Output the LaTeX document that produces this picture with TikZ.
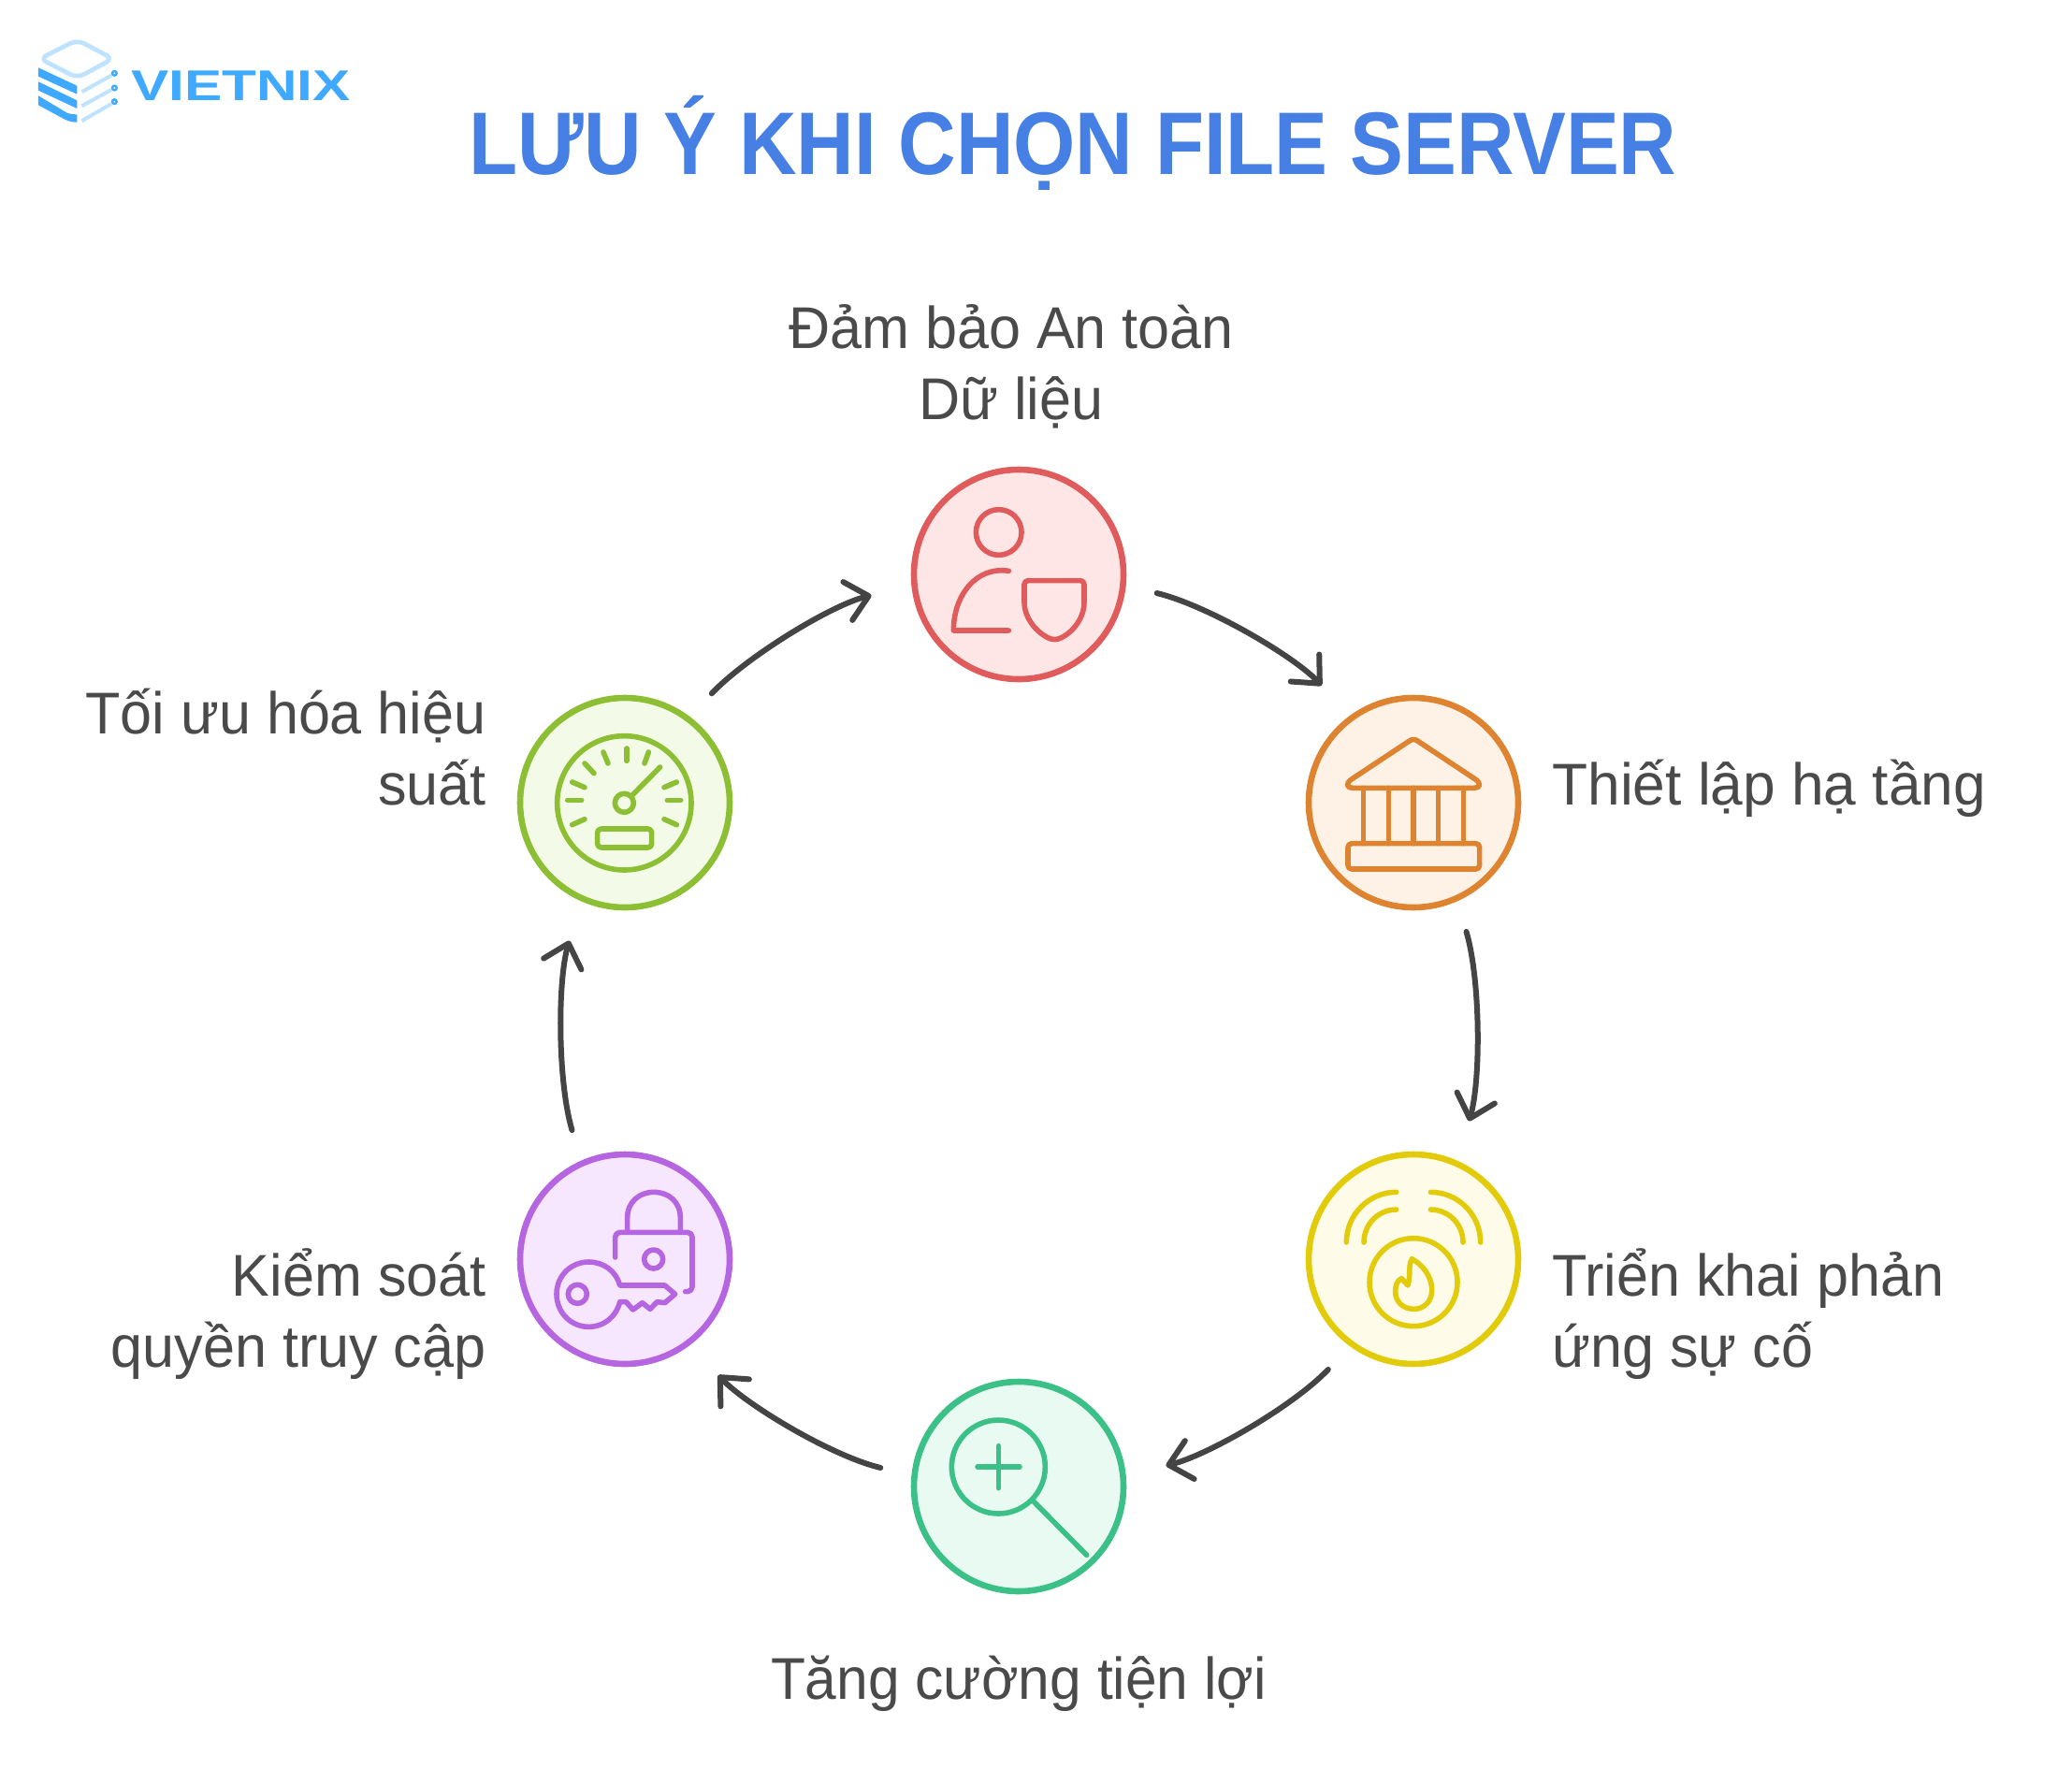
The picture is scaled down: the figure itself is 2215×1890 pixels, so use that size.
\documentclass[tikz,border=0pt]{standalone}
\usepackage{fontspec}
\setmainfont{Liberation Sans}
\newfontfamily\bodyfont[FakeStretch=0.97]{Liberation Sans}
\newfontfamily\bodywide[FakeStretch=0.988]{Liberation Sans}
\newfontfamily\bodytight[FakeStretch=0.96]{Liberation Sans}
\newfontfamily\titlefont[FakeStretch=0.897]{Liberation Sans Bold}
\newfontfamily\logofont[FakeStretch=1.31]{Liberation Sans Bold}
\usetikzlibrary{arrows.meta}
\definecolor{txt}{HTML}{4A4A4A}
\definecolor{ttl}{HTML}{4680E4}
\definecolor{arw}{HTML}{444444}
\definecolor{lgb}{HTML}{3FA9FF}
\definecolor{lgl}{HTML}{BFE3FF}
\definecolor{rs}{HTML}{E05C5C}\definecolor{rf}{HTML}{FFE6E6}
\definecolor{os}{HTML}{DE8431}\definecolor{of}{HTML}{FEF2E6}
\definecolor{ys}{HTML}{E2CB0B}\definecolor{yf}{HTML}{FEFCE8}
\definecolor{gs}{HTML}{3BC088}\definecolor{gf}{HTML}{E8FAF2}
\definecolor{ps}{HTML}{B565E0}\definecolor{pf}{HTML}{F6E6FE}
\definecolor{ls}{HTML}{8DBF34}\definecolor{lf}{HTML}{F3FAE8}
\tikzset{
  disc/.style={circle,minimum size=112pt,inner sep=0pt,line width=3.3pt},
  ico/.style={line width=2.8pt,line cap=round,line join=round},
  flow/.style={arw,line width=3pt,line cap=round,
    -{Straight Barb[length=11.5pt,width=21pt,line cap=round,round]},
    shorten <=17pt,shorten >=22pt,looseness=.82},
  lab/.style={inner sep=0pt,text=txt,font=\bodyfont\fontsize{31.5}{38}\selectfont},
}
\begin{document}
\begin{tikzpicture}[x=.5pt,y=-.5pt]
\useasboundingbox[fill=white] (0,0) rectangle (2215,1890);
% logo
\begin{scope}[scale=1/3]
  \draw[lgl,line width=2.4pt,rounded corners=4pt,line join=round] (248,128)--(362,188)--(248,250)--(128,188)--cycle;
  \fill[lgb] (123,217)--(247,275)--(247,302)--(123,245)--cycle;
  \fill[lgb] (123,262)--(247,322)--(247,348)--(123,290)--cycle;
  \fill[lgb] (123,307)--(215,362) .. controls (230,367) and (240,367) .. (247,367)--(247,392) .. controls (235,392) and (222,390) .. (208,383)--(123,337)--cycle;
  \draw[lgl,line width=2pt] (262,295)--(357,242);
  \draw[lgl,line width=2pt] (262,340)--(357,288);
  \draw[lgl,line width=2pt] (262,388)--(357,333);
  \draw[lgb,line width=1.2pt] (367,235) circle[radius=7];
  \draw[lgb,line width=1.2pt] (367,282) circle[radius=7];
  \draw[lgb,line width=1.2pt] (367,326) circle[radius=7];
\end{scope}
\node[anchor=base west,inner sep=0pt,text=lgb,font=\logofont\fontsize{23}{23}\selectfont] (logo) at (140,107) {VIETNIX};
% title
\node[anchor=base,inner sep=0pt,text=ttl,font=\titlefont\fontsize{47.5}{50}\selectfont] (title) at (1147,186) {LƯU Ý KHI CHỌN FILE SERVER};
% discs
\node[disc,draw=rs,fill=rf] (red) at (1089,614) {};
\node[disc,draw=os,fill=of] (orange) at (1511,858) {};
\node[disc,draw=ys,fill=yf] (yellow) at (1511,1346) {};
\node[disc,draw=gs,fill=gf] (green) at (1089,1589) {};
\node[disc,draw=ps,fill=pf] (purple) at (668,1346) {};
\node[disc,draw=ls,fill=lf] (lime) at (668,858) {};
% connectors
\draw[flow] (red.-6.78) to[out=-13.56,in=133.56] (orange.126.78);
\draw[flow] (orange.-66.78) to[out=-73.56,in=73.56] (yellow.66.78);
\draw[flow] (yellow.-126.78) to[out=-133.56,in=13.56] (green.6.78);
\draw[flow] (green.-186.78) to[out=-193.56,in=-46.44] (purple.-53.22);
\draw[flow] (purple.-246.78) to[out=-253.56,in=253.56] (lime.246.78);
\draw[flow] (lime.53.22) to[out=46.44,in=193.56] (red.186.78);
% red icon
\begin{scope}[shift={(960,490)},scale=1/3,ico,rs]
  \draw (323,237) circle[radius=73];
  \draw (355,361) .. controls (250,345) and (178,440) .. (178,552) -- (355,552);
  \draw[rounded corners=2pt] (405,392) -- (597,392) -- (597,450) .. controls (597,515) and (555,565) .. (502,583) .. controls (450,565) and (405,515) .. (405,450) -- cycle;
\end{scope}
% orange icon
\begin{scope}[shift={(1390,730)},scale=1/3,ico,os]
  \draw (350,186) .. controls (358,180) and (368,180) .. (376,186) -- (560,308) .. controls (582,322) and (577,337) .. (558,337) -- (168,337) .. controls (149,337) and (144,322) .. (166,308) -- cycle;
  \foreach \cx in {203,283,363,443,524} \draw (\cx,337) -- (\cx,515);
  \draw[rounded corners=2pt] (153,515) rectangle (575,597);
\end{scope}
% yellow icon
\begin{scope}[shift={(1390,1220)},scale=1/3,ico,ys]
  \draw (148,324) .. controls (148,235) and (220,163) .. (308,163);
  \draw (204,324) .. controls (204,266) and (250,219) .. (308,219);
  \draw (578,324) .. controls (578,235) and (506,163) .. (418,163);
  \draw (522,324) .. controls (522,266) and (476,219) .. (418,219);
  \draw (363,452) circle[radius=141];
  \draw (358,377) .. controls (390,395) and (422,430) .. (422,478) .. controls (422,515) and (395,538) .. (365,538) .. controls (330,538) and (305,515) .. (305,482) .. controls (305,460) and (312,445) .. (325,440) -- (345,462) .. controls (355,430) and (345,400) .. (358,377) -- cycle;
\end{scope}
% green icon
\begin{scope}[shift={(960,1470)},scale=1/3,ico,gs]
  \draw (322,294) circle[radius=150];
  \draw (255,294) -- (390,294);
  \draw (322,227) -- (322,362);
  \draw (434,404) -- (605,577);
\end{scope}
% purple icon
\begin{scope}[shift={(540,1220)},scale=1/3,ico,ps]
  \draw (392,290) -- (392,245) .. controls (392,195) and (430,163) .. (477,163) .. controls (525,163) and (562,195) .. (562,245) -- (562,290);
  \draw[rounded corners=2.5pt] (353,372) -- (353,292) -- (600,292) -- (600,482) -- (578,482);
  \draw (476,378) circle[radius=30];
  \draw (368,462) .. controls (355,415) and (315,387) .. (268,387) .. controls (210,387) and (165,432) .. (165,490) .. controls (165,548) and (210,595) .. (268,595) .. controls (315,595) and (355,565) .. (368,515) -- (388,515) -- (410,540) -- (440,518) -- (465,538) -- (487,515) -- (512,518) -- (545,490) -- (512,462) -- cycle;
  \draw (232,490) circle[radius=30];
\end{scope}
% lime icon
\begin{scope}[shift={(540,730)},scale=1/3,ico,ls]
  \draw (382,385) circle[radius=215];
  \draw (382,385) circle[radius=30];
  \draw (497,270) -- (410,358);
  \draw (390,210) -- (390,250);
  \draw (315,222) -- (330,258);
  \draw (255,258) -- (285,290);
  \draw (215,318) -- (255,335);
  \draw (200,376) -- (245,376);
  \draw (215,455) -- (255,437);
  \draw (460,222) -- (447,258);
  \draw (550,318) -- (510,335);
  \draw (520,376) -- (563,376);
  \draw (550,455) -- (510,437);
  \draw[rounded corners=2pt] (296,468) rectangle (470,528);
\end{scope}
% labels
\node[lab,anchor=base,align=center] (l1) at (1081,448) {Đảm bảo An toàn\\Dữ liệu};
\node[lab,anchor=base west,font=\bodywide\fontsize{31.5}{38}\selectfont] (l2) at (1659,860) {Thiết lập hạ tầng};
\node[lab,anchor=base west,align=left] (l3) at (1659,1461) {Triển khai phản\\ứng sự cố};
\node[lab,anchor=base,font=\bodytight\fontsize{31.5}{38}\selectfont] (l4) at (1089,1816) {Tăng cường tiện lợi};
\node[lab,anchor=base east,align=right] (l5) at (520,1461) {Kiểm soát\\quyền truy cập};
\node[lab,anchor=base east,align=right] (l6) at (520,860) {Tối ưu hóa hiệu\\suất};
\end{tikzpicture}
\end{document}
